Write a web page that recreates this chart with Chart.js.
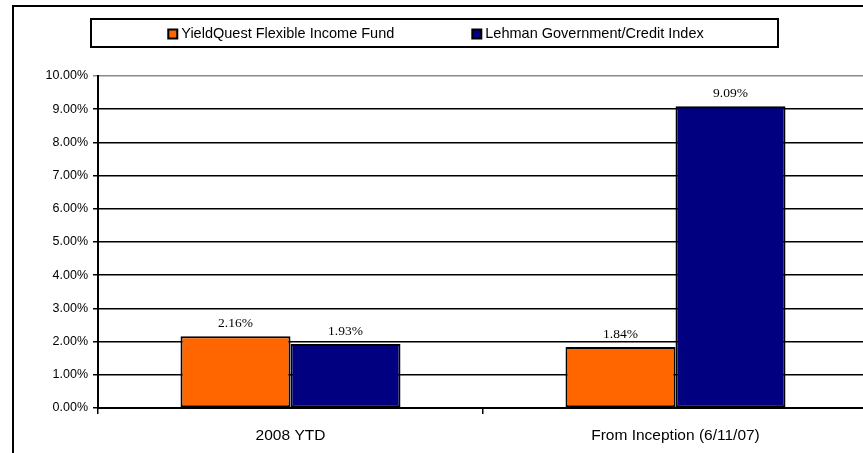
<!DOCTYPE html>
<html>
<head>
<meta charset="utf-8">
<script src="https://cdn.jsdelivr.net/npm/chart.js@4/dist/chart.umd.min.js"></script>
<style>
  html, body { margin: 0; padding: 0; background: #fff; }
  #wrap { position: relative; width: 863px; height: 453px; overflow: hidden; }
  #frame { position: absolute; left: 12px; top: 5px; width: 900px; height: 500px; border: 2px solid #000; box-sizing: border-box; }
  #c { position: absolute; left: 0; top: 0; }
</style>
</head>
<body>
<div id="wrap">
  <div id="frame"></div>
  <canvas id="c" width="880" height="453"></canvas>
</div>
<script>
// data
const categories = ["2008 YTD", "From Inception (6/11/07)"];
const fundValues = [2.16, 1.84];
const indexValues = [1.93, 9.09];
const seriesNames = ["YieldQuest Flexible Income Fund", "Lehman Government/Credit Index"];
const yTicks = [0, 1, 2, 3, 4, 5, 6, 7, 8, 9, 10];

const SANS = "'Liberation Sans', Arial, sans-serif";
const SERIF = "'Liberation Serif', 'Times New Roman', serif";

// legend in a box at the top
const boxLegend = {
    id: "boxLegend",
    afterDraw(chart) {
        const ctx = chart.ctx;
        ctx.save();
        ctx.lineWidth = 2;
        ctx.strokeStyle = "#000";
        ctx.strokeRect(91, 19, 687, 28);
        ctx.font = "14.5px " + SANS;
        ctx.textBaseline = "middle";
        const sq = 9, gap = 4, spacing = 78;
        const ds = chart.data.datasets;
        let total = 0;
        ds.forEach((d, i) => {
            total += sq + gap + ctx.measureText(d.label).width;
            if (i < ds.length - 1) total += spacing;
        });
        let x = 436 - total / 2;
        const y = 34;
        ds.forEach((d) => {
            ctx.fillStyle = d.backgroundColor;
            ctx.fillRect(x, y - sq / 2, sq, sq);
            ctx.lineWidth = 2;
            ctx.strokeRect(x, y - sq / 2, sq, sq);
            ctx.fillStyle = "#000";
            ctx.fillText(d.label, x + sq + gap, y);
            x += sq + gap + ctx.measureText(d.label).width + spacing;
        });
        ctx.restore();
    },
};

// value labels above bars
const barLabels = {
    id: "barLabels",
    afterDatasetsDraw(chart) {
        const ctx = chart.ctx;
        ctx.save();
        ctx.font = "13.5px " + SERIF;
        ctx.fillStyle = "#000";
        ctx.textAlign = "center";
        ctx.textBaseline = "bottom";
        chart.data.datasets.forEach((d, i) => {
            chart.getDatasetMeta(i).data.forEach((bar, j) => {
                ctx.fillText(d.data[j].toFixed(2) + "%", bar.x, bar.y - 6);
            });
        });
        ctx.restore();
    },
};

new Chart(document.getElementById("c"), {
    type: "bar",
    data: {
        labels: categories,
        datasets: [
            {
                label: seriesNames[0],
                data: fundValues,
                backgroundColor: "#FF6600",
                borderColor: "#000",
                borderWidth: 2,
                borderSkipped: false,
            },
            {
                label: seriesNames[1],
                data: indexValues,
                backgroundColor: "#000080",
                borderColor: "#000",
                borderWidth: 2,
                borderSkipped: false,
            },
        ],
    },
    options: {
        responsive: false,
        animation: false,
        categoryPercentage: 0.5714,
        barPercentage: 1,
        layout: { padding: { left: 0, top: 76, right: 12, bottom: 0 } },
        plugins: {
            legend: { display: false },
            tooltip: { enabled: false },
        },
        scales: {
            x: {
                afterFit(scale) { scale.height = 45; },
                grid: {
                    offset: true,
                    drawOnChartArea: false,
                    tickLength: 6,
                    color: "#000",
                    lineWidth: 1.5,
                },
                border: { color: "#000", width: 2 },
                ticks: {
                    color: "#000",
                    padding: 12,
                    font: { family: SANS, size: 15.5 },
                },
            },
            y: {
                min: 0,
                max: 10,
                afterFit(scale) { scale.width = 98; },
                afterBuildTicks(scale) { scale.ticks = yTicks.map((v) => ({ value: v })); },
                grid: {
                    color: (c) => (c.tick && c.tick.value === 10 ? "#8a8a8a" : "#000"),
                    lineWidth: 1.5,
                    tickLength: 5,
                },
                border: { color: "#000", width: 2 },
                ticks: {
                    color: "#000",
                    padding: 5,
                    font: { family: SANS, size: 12.5 },
                    callback: (v) => v.toFixed(2) + "%",
                },
            },
        },
    },
    plugins: [boxLegend, barLabels],
});
</script>
</body>
</html>
